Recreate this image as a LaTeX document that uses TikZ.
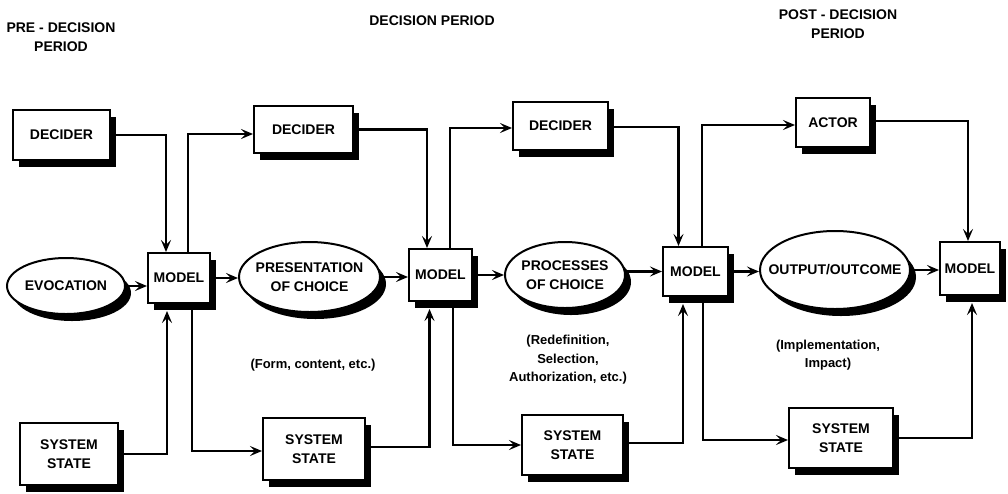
\documentclass[tikz,border=0pt]{standalone}
\usepackage{fontspec}
\setmainfont{Liberation Sans}
\usetikzlibrary{shapes.geometric,shadows,arrows.meta}
\begin{document}
\begin{tikzpicture}[x=1pt,y=-1pt,
  every node/.style={align=center},
  lbl/.style={font=\bfseries\fontsize{14}{19}\selectfont},
  sh/.style={drop shadow={shadow xshift=6pt,shadow yshift=-7pt,opacity=1,fill=black}},
  blk/.style={lbl, draw, line width=2pt, fill=white, inner sep=0pt, sh},
  oval/.style={lbl, ellipse, draw, line width=2pt, fill=white, inner sep=0pt, inner xsep=-30pt, sh},
  hdr/.style={font=\bfseries\fontsize{14}{19}\selectfont},
  note/.style={font=\bfseries\fontsize{13}{18.5}\selectfont},
  conn/.style={line width=2.2pt},
  arr/.style={conn, -{Stealth[length=12pt,width=10pt,inset=5pt]}},
]
\useasboundingbox (0,0) rectangle (1008,493);

% headers
\node[hdr] (h1) at (61,37.5) {PRE - DECISION\\PERIOD};
\node[hdr] (h2) at (432,21) {DECISION PERIOD};
\node[hdr] (h3) at (838,24) {POST - DECISION\\PERIOD};

% top boxes
\node[blk, minimum width=97pt, minimum height=50pt] (dec1) at (61.5,135) {DECIDER};
\node[blk, minimum width=99pt, minimum height=47pt] (dec2) at (303.5,129.5) {DECIDER};
\node[blk, minimum width=95pt, minimum height=48pt] (dec3) at (560.5,126) {DECIDER};
\node[blk, minimum width=74pt, minimum height=49pt] (actor) at (833,122.5) {ACTOR};

% model boxes
\node[blk, minimum width=62pt, minimum height=50pt] (m1) at (179,278) {MODEL};
\node[blk, minimum width=63pt, minimum height=52pt] (m2) at (440.5,275) {MODEL};
\node[blk, minimum width=65pt, minimum height=49pt] (m3) at (695.5,271.5) {MODEL};
\node[blk, minimum width=60pt, minimum height=53pt] (m4) at (970,268.5) {MODEL};

% ellipses
\node[oval, minimum width=118pt, minimum height=56pt] (evoc) at (66,286) {EVOCATION};
\node[oval, minimum width=141pt, minimum height=70pt] (pres) at (309.5,277) {PRESENTATION\\OF CHOICE};
\node[oval, minimum width=120pt, minimum height=66pt] (proc) at (565,275) {PROCESSES\\OF CHOICE};
\node[oval, minimum width=150pt, minimum height=78pt] (out) at (835,270) {OUTPUT/OUTCOME};

% system state boxes
\node[blk, minimum width=98pt, minimum height=62pt] (ss1) at (69,454) {SYSTEM\\STATE};
\node[blk, minimum width=102pt, minimum height=62pt] (ss2) at (314,449) {SYSTEM\\STATE};
\node[blk, minimum width=101pt, minimum height=60pt] (ss3) at (572.5,445) {SYSTEM\\STATE};
\node[blk, minimum width=104pt, minimum height=60pt] (ss4) at (841,438) {SYSTEM\\STATE};

% notes
\node[note] (n1) at (313,365) {(Form, content, etc.)};
\node[note] (n2) at (568,360) {(Redefinition,\\Selection,\\Authorization, etc.)};
\node[note] (n3) at (828,355) {(Implementation,\\Impact)};

% top connectors
\draw[arr] (dec1.east) -| ([xshift=-13pt]m1.north);
\draw[arr] ([xshift=9pt]m1.north) |- ([yshift=-4.5pt]dec2.west);
\draw[arr] (dec2.east) -| ([xshift=-13.5pt]m2.north);
\draw[arr] ([xshift=9.5pt]m2.north) |- ([yshift=-2pt]dec3.west);
\draw[arr] ([yshift=-1pt]dec3.east) -| ([xshift=-17pt]m3.north);
\draw[arr] ([xshift=6.5pt]m3.north) |- ([yshift=-2.5pt]actor.west);
\draw[arr] ([yshift=1.5pt]actor.east) -| ([xshift=-2pt]m4.north);

% middle row
\draw[arr] (evoc.east) -- (evoc.east -| m1.west);
\draw[arr] (m1.east) -- (m1.east -| pres.west);
\draw[arr] (pres.east) -- (pres.east -| m2.west);
\draw[arr] (m2.east) -- (m2.east -| proc.west);
\draw[arr] (proc.east |- m3.west) -- (m3.west);
\draw[arr] (m3.east) -- (m3.east -| out.west);
\draw[arr] (out.east) -- (out.east -| m4.west);

% bottom connectors
\draw[arr] (ss1.east) -| ([xshift=-12pt,yshift=-7pt]m1.south);
\draw[arr] ([xshift=13pt]m1.south) |- ([yshift=-2pt]ss2.west);
\draw[arr] ([yshift=2pt]ss2.east) -| ([xshift=-11pt,yshift=-7pt]m2.south);
\draw[arr] ([xshift=12.5pt]m2.south) |- (ss3.west);
\draw[arr] ([yshift=2pt]ss3.east) -| ([xshift=-12.5pt,yshift=-7pt]m3.south);
\draw[arr] ([xshift=7.5pt]m3.south) |- ([yshift=-2pt]ss4.west);
\draw[arr] (ss4.east) -| ([xshift=2pt,yshift=-7pt]m4.south);
\end{tikzpicture}
\end{document}
